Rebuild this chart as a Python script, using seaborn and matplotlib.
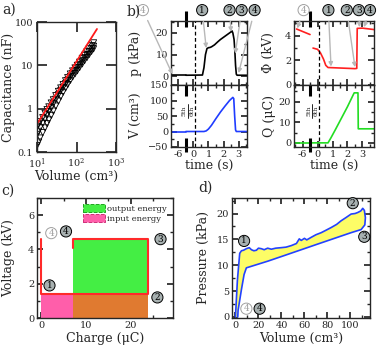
import numpy as np
import pandas as pd
import matplotlib
matplotlib.use("Agg")
import matplotlib.pyplot as plt
import matplotlib.patches as mpatches
from matplotlib.ticker import MultipleLocator, NullLocator
import seaborn as sns

sns.set_theme(style="ticks")
plt.rcParams["font.family"] = ["DejaVu Serif"]
plt.rcParams.update({
    "mathtext.fontset": "dejavuserif",
    "xtick.direction": "in", "ytick.direction": "in",
    "xtick.top": True, "ytick.right": True,
    "xtick.labelsize": 7, "ytick.labelsize": 7,
    "axes.labelsize": 9, "axes.linewidth": 1.0,
    "xtick.major.size": 4, "ytick.major.size": 4,
    "xtick.minor.size": 2.5, "ytick.minor.size": 2.5,
    "xtick.major.pad": 2, "ytick.major.pad": 2,
})

# ---- a) capacitance vs volume
fit_vol = [10.6, 330]
fit_cap = [0.48, 69]
vol_a = [10, 11, 12, 14, 16, 18, 20, 23, 26, 30, 35, 40, 46, 53, 60, 70, 80, 92,
         105, 120, 140, 160, 185, 210, 240, 270]
cap_upper = [0.38, 0.44, 0.5, 0.62, 0.78, 0.95, 1.1, 1.35, 1.6, 2.0, 2.5, 3.0, 3.6,
             4.4, 5.2, 6.3, 7.4, 8.7, 10, 11.8, 14.5, 17, 20.5, 24, 28.5, 33]
cap_middle = [0.25, 0.3, 0.36, 0.46, 0.58, 0.72, 0.85, 1.05, 1.3, 1.65, 2.1, 2.6, 3.1,
              3.8, 4.5, 5.5, 6.5, 7.6, 8.8, 10.3, 12.5, 14.8, 17.5, 20.5, 24, 27.5]
cap_lower = [0.14, 0.17, 0.21, 0.28, 0.36, 0.45, 0.55, 0.7, 0.88, 1.15, 1.5, 1.9, 2.4,
             3.0, 3.6, 4.5, 5.4, 6.4, 7.5, 8.9, 10.8, 12.8, 15.2, 17.8, 21, 24]

# ---- b) time traces (5th cycle before the axis break, 6th after)
t_pre = [-6.5, -5.5]
p_pre = [0.5, 0.5]
v_pre = [0, 0]
q_pre = [0, 0]
t_phi_pre = [-6.4, -5.5]
phi_pre = [4.55, 4.1]

t_p = [-0.5, 0.6, 0.7, 0.8, 0.9, 1.0, 1.1, 1.2, 1.4, 1.6, 1.8, 2.0, 2.2, 2.4, 2.5,
       2.56, 2.62, 2.7, 2.75, 2.8, 2.85, 2.9, 3.6]
p_kpa = [0.5, 0.6, 4, 10, 12.8, 13.2, 13.3, 13.6, 14.5, 15.8, 17, 18, 19, 20, 20.5,
         21, 20, 17, 12, 5, 1, 0.5, 0.5]
t_v = [-0.5, 0.7, 0.85, 1.0, 1.2, 1.5, 1.8, 2.1, 2.4, 2.62, 2.68, 2.74, 2.8, 2.85, 3.6]
v_cm3 = [0, 0, 2, 8, 20, 42, 63, 82, 100, 110, 106, 50, 5, 0, 0]
t_phi = [-0.3, 0.0, 0.2, 0.4, 0.55, 0.7, 1.5, 2.5, 2.62, 2.65, 3.0, 3.8]
phi_kv = [3.0, 2.9, 2.6, 2.1, 1.6, 1.42, 1.38, 1.33, 1.35, 4.6, 4.62, 4.5]
t_q = [-0.5, 0.7, 0.9, 1.2, 1.6, 2.0, 2.4, 2.45, 2.7, 2.72, 3.8]
q_uc = [0, 0, 2.5, 6.5, 12, 17.5, 23.5, 24.2, 24.2, 6.8, 6.8]

# ---- c) voltage vs charge cycle
cyc_charge = [0, 0, 24, 24, 7, 7]
cyc_volt = [4.6, 1.4, 1.4, 4.6, 4.6, 4.1]
q_start, q_mid, q_end = 0, 7, 24
v_low, v_high = 1.4, 4.6

# ---- d) pressure vs volume loop
vol_up = [0, 1.7, 3.7, 5.2, 7, 9.5, 12, 13.9, 16, 18.2, 20, 22.5, 25, 28, 31.2, 35,
          39.9, 44, 48.6, 53, 55.5, 57.2, 60, 62, 65.9, 70, 74.6, 79, 83.3, 88, 91.9,
          96, 100.6, 104, 106.4, 109, 110.7, 112.1, 113, 112.5, 109.3]
p_up = [0, 7.1, 12.3, 12.8, 12.9, 13.2, 13.4, 13.0, 12.8, 12.9, 13.3, 13.2, 13.0,
        13.3, 13.1, 13.3, 13.4, 13.5, 13.8, 14.2, 15.1, 14.8, 15.2, 14.9, 15.4, 15.9,
        16.3, 16.8, 17.3, 17.9, 18.6, 19.2, 19.9, 20.0, 20.2, 20.5, 21.0, 20.6, 19.2,
        17.8, 16.9]
vol_lo = [109.3, 100.6, 86.1, 71.6, 57.2, 42.8, 28.3, 13.9, 9.5, 7.5, 5.2, 2.3, 2.0]
p_lo = [16.9, 16.3, 15.2, 14.1, 13.0, 11.9, 10.8, 9.8, 9.5, 8.2, 5.3, 1.3, 0]

W, H = 378, 352
fig = plt.figure(figsize=(W / 100, H / 100), dpi=100)


def px_axes(l, t, r, b):
    return fig.add_axes([l / W, 1 - b / H, (r - l) / W, (b - t) / H])


def shown(t):
    # compress the time axis: the 5th cycle is drawn just left of the break
    t = np.asarray(t, dtype=float)
    return np.where(t < -3, t + 5, t)


def line(ax, x, y, color, lw=1.2):
    sns.lineplot(x=x, y=y, ax=ax, color=color, lw=lw, sort=False,
                 estimator=None, errorbar=None)


GREY_FILL = "#a7b0b0"
ARROW = "#b8b8b8"


def badge(ax, label, pos, target=None, light=False, coords="axes fraction"):
    bbox = dict(boxstyle="circle,pad=0.12", fc="white" if light else GREY_FILL,
                ec="#a0a0a0" if light else "black", lw=0.7)
    kw = dict(ha="center", va="center", fontsize=6.5, bbox=bbox,
              color="#a0a0a0" if light else "black", annotation_clip=False)
    if target is None:
        ax.annotate(label, xy=pos, xycoords=coords, **kw)
    else:
        ax.annotate(label, xy=target, xycoords="data", xytext=pos, textcoords=coords,
                    arrowprops=dict(arrowstyle="-|>", color=ARROW, lw=1.0,
                                    mutation_scale=6, shrinkA=4, shrinkB=0), **kw)


# ================= a)
ax = px_axes(37, 22, 116, 152)
ax.set(xscale="log", yscale="log")
for cap in (cap_lower, cap_middle, cap_upper):
    sns.scatterplot(x=vol_a, y=cap, ax=ax, marker="v", s=20, facecolors="none",
                    edgecolors="black", linewidths=0.6, legend=False)
line(ax, fit_vol, fit_cap, "#ff1a1a", lw=1.3)
ax.set_xlim(10, 1000)
ax.set_ylim(0.1, 100)
ax.set_xticks([10, 100, 1000], labels=["10$^1$", "10$^2$", "10$^3$"])
ax.set_yticks([0.1, 1, 10, 100], labels=["0.1", "1", "10", "100"])
ax.xaxis.set_minor_locator(NullLocator())
ax.yaxis.set_minor_locator(NullLocator())
ax.tick_params(which="major", length=7)
ax.tick_params(axis="x", pad=3.5)
ax.tick_params(axis="y", pad=3)
ax.set_xlabel("Volume (cm³)")
ax.set_ylabel("Capacitance (nF)")
ax.yaxis.set_label_coords(-0.28, 0.5)
ax.xaxis.set_label_coords(0.5, -0.14)

# ================= b)
BREAK = -0.5
ax_p = px_axes(171, 21, 247, 85)
ax_v = px_axes(171, 85, 247, 147)
ax_f = px_axes(294, 21, 374, 85)
ax_q = px_axes(294, 85, 374, 147)

line(ax_p, shown(t_pre), p_pre, "black")
line(ax_p, shown(t_p), p_kpa, "black")
line(ax_v, shown(t_pre), v_pre, "#1f3cff")
line(ax_v, shown(t_v), v_cm3, "#1f3cff")
line(ax_f, shown(t_phi_pre), phi_pre, "#ff2020")
line(ax_f, shown(t_phi), phi_kv, "#ff2020")
line(ax_q, shown(t_pre), q_pre, "#22dd22")
line(ax_q, shown(t_q), q_uc, "#22dd22")

for a_, lim in ((ax_p, (-1.49, 3.56)), (ax_v, (-1.49, 3.56)),
                (ax_f, (-1.57, 3.77)), (ax_q, (-1.57, 3.77))):
    a_.set_xlim(*lim)
    a_.set_xticks([-1, 0, 1, 2, 3], labels=["-6", "0", "1", "2", "3"])
    a_.xaxis.set_minor_locator(MultipleLocator(0.5))
    a_.axvline(0.1, color="black", lw=0.9, ls=(0, (3, 2)))
ax_p.set_ylim(-4, 25.5)
ax_p.yaxis.set_major_locator(MultipleLocator(10))
ax_p.yaxis.set_minor_locator(MultipleLocator(5))
ax_v.set_ylim(-50, 150)
ax_v.yaxis.set_major_locator(MultipleLocator(50))
ax_v.yaxis.set_minor_locator(MultipleLocator(25))
ax_f.set_ylim(0, 5.2)
ax_f.yaxis.set_major_locator(MultipleLocator(2))
ax_f.yaxis.set_minor_locator(MultipleLocator(1))
ax_q.set_ylim(-2, 28)
ax_q.yaxis.set_major_locator(MultipleLocator(10))
ax_q.yaxis.set_minor_locator(MultipleLocator(5))
for a_ in (ax_p, ax_f):
    a_.tick_params(labelbottom=False)
ax_p.set_ylabel("p (kPa)")
ax_v.set_ylabel("V (cm³)")
ax_f.set_ylabel("Φ (kV)")
ax_q.set_ylabel("Q (μC)")
ax_p.yaxis.set_label_coords(-0.38, 0.5)
ax_v.yaxis.set_label_coords(-0.38, 0.5)
ax_f.yaxis.set_label_coords(-0.24, 0.5)
ax_q.yaxis.set_label_coords(-0.22, 0.5)
for a_ in (ax_v, ax_q):
    a_.set_xlabel("time (s)")
    a_.xaxis.set_label_coords(0.5, -0.2)

# axis break marks
for a_, spans in ((ax_p, [(0.9, 1.16)]), (ax_v, [(0.82, 1.0), (-0.08, 0.15)]),
                  (ax_f, [(0.9, 1.16)]), (ax_q, [(0.82, 1.0), (-0.08, 0.15)])):
    for y0, y1 in spans:
        a_.plot([BREAK, BREAK], [y0, y1], transform=a_.get_xaxis_transform(),
                color="black", lw=2.2, clip_on=False, solid_capstyle="butt")

# 5th / 6th cycle marker (rotated fraction)
for a_ in (ax_v, ax_q):
    tr = a_.get_xaxis_transform()
    a_.text(-0.6, 0.58, "5th", rotation=90, fontsize=4.5, ha="center", va="center",
            transform=tr)
    a_.text(-0.08, 0.58, "6th", rotation=90, fontsize=4.5, ha="center", va="center",
            transform=tr)
    a_.plot([-0.34, -0.34], [0.46, 0.70], color="black", lw=0.6, transform=tr)

# state markers in b)
badge(ax_p, "4", (-0.37, 1.17), target=(-1.4, 1.0), light=True)
badge(ax_p, "1", (0.41, 1.17), target=(0.85, 13))
badge(ax_p, "2", (0.77, 1.17), target=(2.5, 20.5))
badge(ax_p, "3", (0.93, 1.17), target=(2.78, 10.5))
badge(ax_p, "4", (1.10, 1.17), target=(3.0, 1.5))
badge(ax_f, "4", (0.12, 1.17), target=(-1.35, 4.6), light=True)
badge(ax_f, "1", (0.43, 1.17), target=(0.9, 1.5))
badge(ax_f, "2", (0.66, 1.17), target=(2.5, 1.45))
badge(ax_f, "3", (0.81, 1.17), target=(2.8, 4.7))
badge(ax_f, "4", (0.95, 1.17), target=(3.1, 4.7))

# ================= c)
ax = px_axes(37, 198, 173, 318)
GREEN, PINK, ORANGE = "#44ee44", "#ff5eaa", "#e07a30"
ax.fill_between([q_mid, q_end], v_low, v_high, color=GREEN, lw=0)
ax.fill_between([q_start, q_mid], 0, v_low, color=PINK, lw=0)
ax.fill_between([q_mid, q_end], 0, v_low, color=ORANGE, lw=0)
line(ax, cyc_charge, cyc_volt, "#ff2a2a", lw=1.5)
ax.set_xlim(-1, 29.5)
ax.set_ylim(0, 7)
ax.xaxis.set_major_locator(MultipleLocator(10))
ax.xaxis.set_minor_locator(MultipleLocator(5))
ax.yaxis.set_major_locator(MultipleLocator(2))
ax.yaxis.set_minor_locator(MultipleLocator(1))
ax.set_xlabel("Charge (μC)")
ax.set_ylabel("Voltage (kV)")
ax.yaxis.set_label_coords(-0.16, 0.5)
ax.xaxis.set_label_coords(0.5, -0.12)
handles = [mpatches.Patch(fc=GREEN, ec="#1fa51f", ls="--", lw=0.7, label="output energy"),
           mpatches.Patch(fc=PINK, ec="#d0307a", ls="--", lw=0.7, label="input energy")]
ax.legend(handles=handles, loc="upper left", bbox_to_anchor=(0.34, 0.95), frameon=False,
          fontsize=6, handlelength=2.6, handleheight=1.1, labelspacing=0.15,
          handletextpad=0.2, borderaxespad=0, borderpad=0)
badge(ax, "4", (2.2, 4.95), light=True, coords="data")
badge(ax, "4", (5.5, 5.05), coords="data")
badge(ax, "3", (26.7, 4.6), coords="data")
badge(ax, "2", (26.0, 1.2), coords="data")
badge(ax, "1", (1.8, 1.9), coords="data")

# ================= d)
ax = px_axes(232, 198, 370, 318)
ax.fill(vol_up + vol_lo, p_up + p_lo, color="#fdfd66", lw=0)
line(ax, vol_up + vol_lo, p_up + p_lo, "#2342ff")
ax.set_xlim(-3, 117)
ax.set_ylim(-0.2, 23)
ax.xaxis.set_major_locator(MultipleLocator(20))
ax.xaxis.set_minor_locator(MultipleLocator(10))
ax.yaxis.set_major_locator(MultipleLocator(5))
ax.yaxis.set_minor_locator(MultipleLocator(2.5))
ax.set_xlabel("Volume (cm³)")
ax.set_ylabel("Pressure (kPa)")
ax.yaxis.set_label_coords(-0.16, 0.5)
ax.xaxis.set_label_coords(0.5, -0.12)
badge(ax, "1", (7.5, 14.7), coords="data")
badge(ax, "2", (102, 22), coords="data")
badge(ax, "3", (112, 15.5), coords="data")
badge(ax, "4", (9.5, 1.6), light=True, coords="data")
badge(ax, "4", (21, 1.6), coords="data")

# panel letters
for txt, x, y in (("a)", 2, 3), ("b)", 127, 5), ("c)", 1, 184), ("d)", 198, 181)):
    fig.text(x / W, 1 - y / H, txt, fontsize=10, ha="left", va="top")

fig.savefig("out.png", dpi=100)
